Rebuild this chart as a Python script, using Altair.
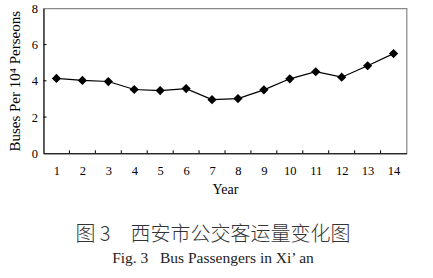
import altair as alt
import pandas as pd

years = list(range(1, 15))
values = [4.13, 4.02, 3.96, 3.52, 3.46, 3.57, 2.96, 3.02, 3.50, 4.11, 4.50, 4.20, 4.83, 5.50]
y_ticks = [0, 2, 4, 6, 8]
x_bounds = [y + 0.5 for y in years[:-1]]

W, H = 363, 145
FONT = "Liberation Serif"

df = pd.DataFrame({"year": years, "value": values})
df_xt = pd.DataFrame({"b": x_bounds})
df_yt = pd.DataFrame({"t": y_ticks[1:-1]})

xscale = alt.Scale(domain=[0.5, 14.5], nice=False, zero=False)
yscale = alt.Scale(domain=[0, 8], nice=False)

axis_x = alt.Axis(values=years, title="Year", grid=False, ticks=False,
                  domainColor="black", labelFont=FONT, labelFontSize=12.5,
                  labelColor="black", labelPadding=11, titleFont=FONT,
                  titleFontSize=14, titleFontWeight="normal", titleColor="black",
                  titlePadding=6, labelFlush=False, labelOverlap=False)
axis_y = alt.Axis(values=y_ticks, title="Buses Per 10⁴ Perseons", grid=False,
                  ticks=False, domainColor="black", labelFont=FONT,
                  labelFontSize=12.5, labelColor="black", labelPadding=6,
                  titleFont=FONT, titleFontSize=15, titleFontWeight="normal",
                  titleColor="black", titlePadding=9, labelOverlap=False,
                  labelFlush=False)

base = alt.Chart(df)

line = base.mark_line(color="black", strokeWidth=1.2).encode(
    x=alt.X("year:Q", scale=xscale, axis=axis_x),
    y=alt.Y("value:Q", scale=yscale, axis=axis_y),
)

points = base.mark_point(shape="diamond", filled=True, color="black", size=85, opacity=1).encode(
    x=alt.X("year:Q", scale=xscale, axis=axis_x),
    y=alt.Y("value:Q", scale=yscale, axis=axis_y),
)

xticks = alt.Chart(df_xt).mark_rule(color="black", strokeWidth=1).encode(
    x=alt.X("b:Q", scale=xscale, axis=axis_x),
    y=alt.value(H),
    y2=alt.value(H - 3),
)

yticks = alt.Chart(df_yt).mark_rule(color="black", strokeWidth=1).encode(
    y=alt.Y("t:Q", scale=yscale, axis=axis_y),
    x=alt.value(0),
    x2=alt.value(3),
)

chart = alt.layer(line, points, xticks, yticks).properties(
    width=W,
    height=H,
    autosize=alt.AutoSizeParams(type="none"),
    padding={"left": 43.5, "top": 8.3, "right": 26.5, "bottom": 124.7},
    title=alt.TitleParams(
        text="图 3\u3000西安市公交客运量变化图",
        subtitle="Fig. 3\u00a0\u00a0\u00a0Bus Passengers in Xi’ an",
        orient="bottom",
        anchor="middle",
        dx=-12,
        offset=28,
        font="Noto Sans CJK SC",
        fontSize=20,
        fontWeight=300,
        color="#333",
        subtitleFont=FONT,
        subtitleFontSize=15.5,
        subtitleColor="#222",
        subtitlePadding=6,
    ),
).configure_view(stroke="#888", strokeWidth=1.2)

chart.save("out.html", embed_options={"renderer": "svg", "actions": False})
